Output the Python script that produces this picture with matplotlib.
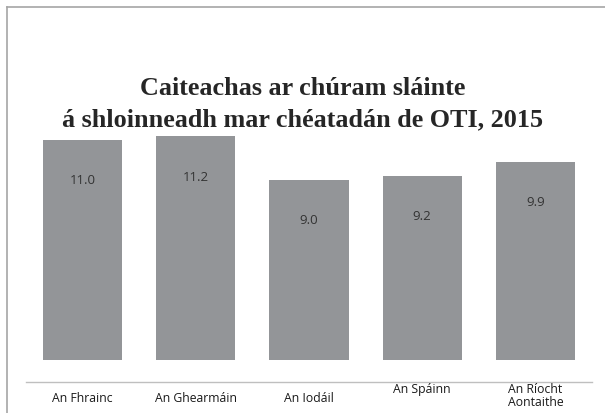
import matplotlib
matplotlib.use("Agg")
import matplotlib.pyplot as plt
from matplotlib.lines import Line2D
import matplotlib.transforms as mtransforms

categories = ["An Fhrainc", "An Ghearmáin", "An Iodáil", "An Spáinn", "An Ríocht\nAontaithe"]
values = [11.0, 11.2, 9.0, 9.2, 9.9]
value_labels = ["11.0", "11.2", "9.0", "9.2", "9.9"]
title = "Caiteachas ar chúram sláinte\ná shloinneadh mar chéatadán de OTI, 2015"

W, H = 605, 413
fig = plt.figure(figsize=(W / 100, H / 100), dpi=100)
fig.patch.set_facecolor("white")

# figure frame (top and left lines)
fig.add_artist(Line2D([7 / W, 7 / W], [0, 1 - 7 / H], transform=fig.transFigure, color="#a6a6a6", lw=1.2))
fig.add_artist(Line2D([7 / W, 1], [1 - 7 / H, 1 - 7 / H], transform=fig.transFigure, color="#a6a6a6", lw=1.2))

ax = fig.add_axes([26 / W, (H - 382) / H, 566 / W, (382 - 130) / H])
x = list(range(len(categories)))
ax.bar(x, values, width=0.7, color="#939598")
ax.set_xlim(-0.5, len(categories) - 0.5)
ax.set_ylim(-1.1, 11.5)
for s in ["top", "right", "left"]:
    ax.spines[s].set_visible(False)
ax.spines["bottom"].set_color("#bfbfbf")
ax.spines["bottom"].set_linewidth(1.0)
ax.set_yticks([])
ax.set_xticks([])

for xi, v, lab in zip(x, values, value_labels):
    ax.text(xi, v - 2.05, lab, ha="center", va="center", fontsize=9.5, color="#333333", family="Open Sans")

trans = mtransforms.blended_transform_factory(ax.transData, fig.transFigure)
label_y = [398, 398, 398, 389, 396]
for xi, lab, yp in zip(x, categories, label_y):
    ax.text(xi, 1 - yp / H, lab, ha="center", va="center", fontsize=8.8, color="#1a1a1a",
            family="Open Sans", transform=trans, linespacing=1.05)

fig.text(0.5, 1 - 104.5 / H, title, ha="center", va="center", fontsize=18.8, fontweight="bold",
         family="Liberation Serif", color="#262626", linespacing=1.45)

fig.savefig("out.png", dpi=100)
